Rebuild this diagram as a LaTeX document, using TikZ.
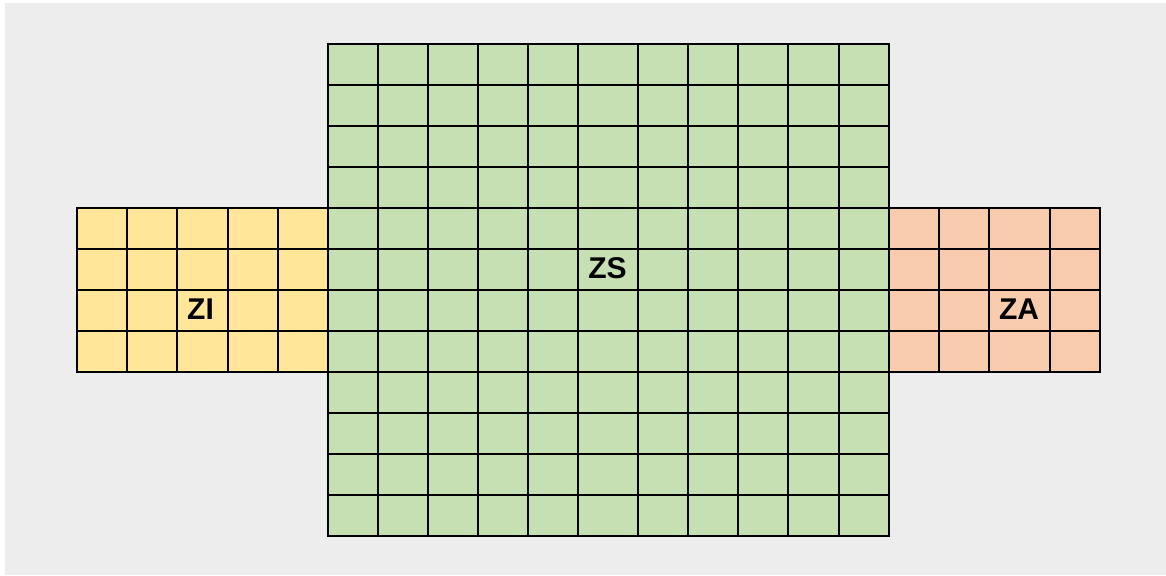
\documentclass[tikz,border=0pt]{standalone}
\usepackage{fontspec}
\setmainfont{Liberation Sans}
\definecolor{bggray}{HTML}{EDEDED}
\definecolor{zsgreen}{HTML}{C6E0B4}
\definecolor{ziyellow}{HTML}{FFE699}
\definecolor{zaorange}{HTML}{F8CBAD}
\tikzset{
  gridline/.style={line width=2pt, black, line cap=rect},
  zonelabel/.style={font=\fontsize{30}{33}\selectfont\bfseries, inner sep=0pt}
}
\begin{document}
\begin{tikzpicture}[x=1pt,y=-1pt]
\useasboundingbox (0,0) rectangle (1166,575);
\fill[bggray] (5,3) rectangle (1166,575);
% fills
\fill[zsgreen] (328,44) rectangle (889,536);
\fill[ziyellow] (77,208) rectangle (328,372);
\fill[zaorange] (889,208) rectangle (1100,372);
% ZS grid
\foreach \x in {328,378,428,478,528,578,638,688,738,788,839,889}
  \draw[gridline] (\x,44) -- (\x,536);
\foreach \y in {44,85,126,167,208,249,290,331,372,413,454,495,536}
  \draw[gridline] (328,\y) -- (889,\y);
% ZI grid
\foreach \x in {77,127,177,228,278}
  \draw[gridline] (\x,208) -- (\x,372);
\foreach \y in {208,249,290,331,372}
  \draw[gridline] (77,\y) -- (328,\y);
% ZA grid
\foreach \x in {939,989,1050,1100}
  \draw[gridline] (\x,208) -- (\x,372);
\foreach \y in {208,249,290,331,372}
  \draw[gridline] (889,\y) -- (1100,\y);
% labels
\node[zonelabel] (zs) at (607.5,268.5) {ZS};
\node[zonelabel] (zi) at (200.5,309.5) {ZI};
\node[zonelabel] (za) at (1019,309.5) {ZA};
\end{tikzpicture}
\end{document}
